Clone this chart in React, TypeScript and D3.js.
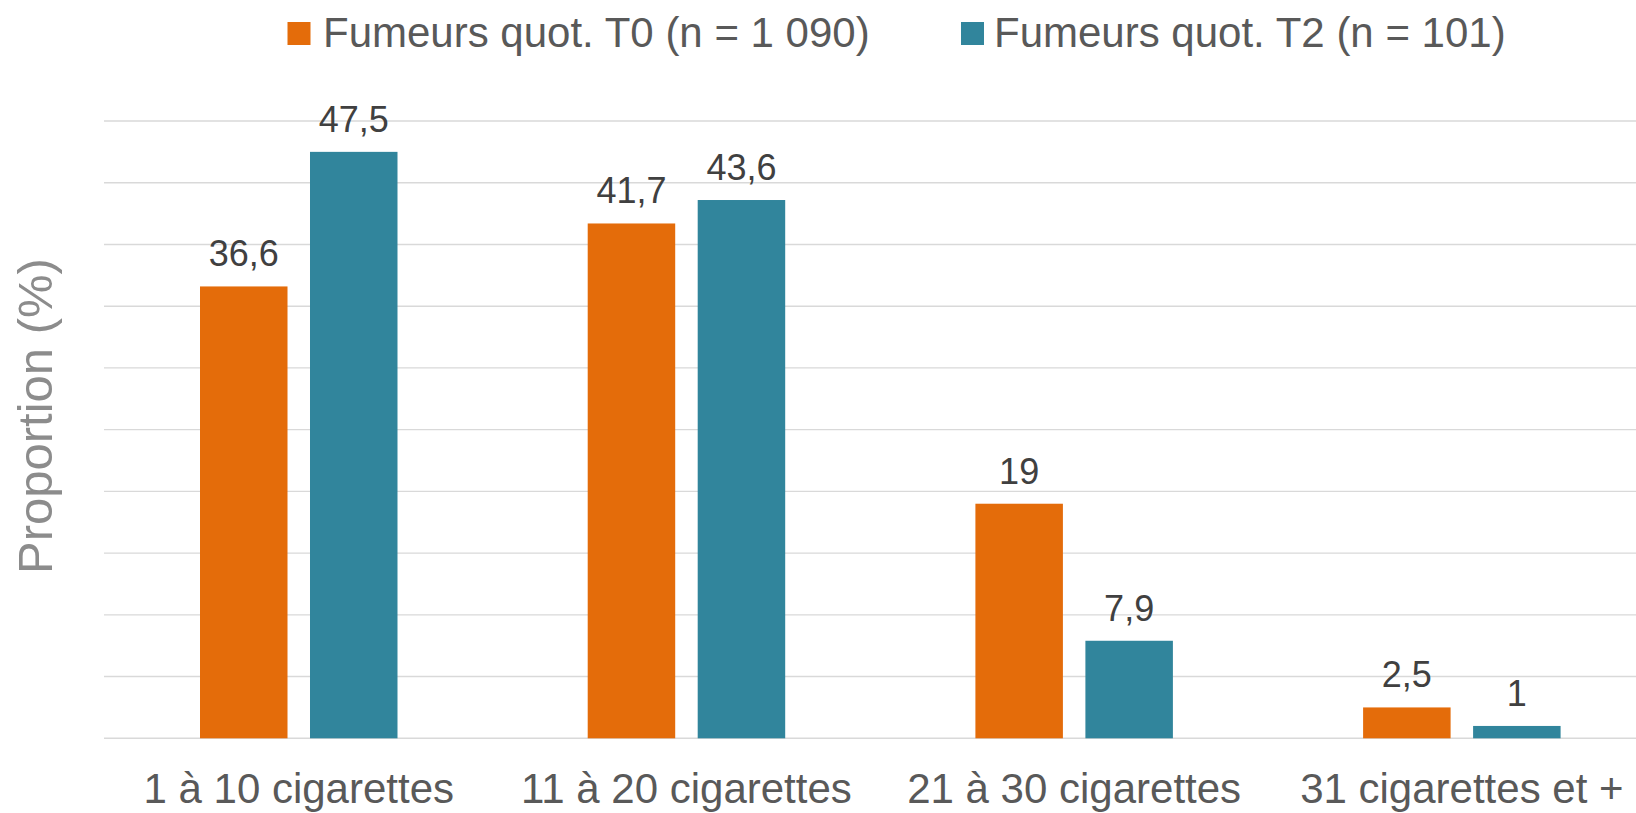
import React from "react";
import * as d3 from "d3";

// Daily cigarette consumption distribution, T0 vs T2 daily smokers
const categories = ["1 à 10 cigarettes", "11 à 20 cigarettes", "21 à 30 cigarettes", "31 cigarettes et +"];
const seriesNames = ["Fumeurs quot. T0 (n = 1 090)", "Fumeurs quot. T2 (n = 101)"];
const valuesT0 = [36.6, 41.7, 19, 2.5];
const valuesT1 = [47.5, 43.6, 7.9, 1];
const labelsT0 = ["36,6", "41,7", "19", "2,5"];
const labelsT1 = ["47,5", "43,6", "7,9", "1"];
const yTicks = [0, 5, 10, 15, 20, 25, 30, 35, 40, 45, 50];
const yTitle = "Proportion (%)";

const colors = ["#E46C0A", "#31859C"];
const FONT = "'Liberation Sans', Arial, Helvetica, sans-serif";

export default function App() {
  const W = 1636;
  const H = 813;
  const plotLeft = 104;
  const plotTop = 121;
  const plotBottom = 738.3;

  const y = d3.scaleLinear().domain([0, 50]).range([plotBottom, plotTop]);
  const x0 = d3
    .scaleBand<string>()
    .domain(categories)
    .range([104.9, 104.9 + 4 * 387.7])
    .paddingInner(0.4906)
    .paddingOuter(0.2453);
  const x1 = d3
    .scaleBand<string>()
    .domain(seriesNames)
    .range([0, x0.bandwidth()])
    .paddingInner(0.2045);

  const series = [
    { name: seriesNames[0], values: valuesT0, labels: labelsT0, color: colors[0] },
    { name: seriesNames[1], values: valuesT1, labels: labelsT1, color: colors[1] },
  ];

  const legend = [
    { x: 287.5, textX: 323, name: seriesNames[0], color: colors[0] },
    { x: 961, textX: 994, name: seriesNames[1], color: colors[1] },
  ];

  return (
    <svg
      width={W}
      height={H}
      style={{ position: "absolute", left: 0, top: 0, display: "block", background: "#fff" }}
      fontFamily={FONT}
    >
      <rect x={0} y={0} width={W} height={H} fill="#ffffff" />
      {/* gridlines */}
      {yTicks.map((t) => (
        <line
          key={t}
          x1={plotLeft}
          x2={W}
          y1={y(t)}
          y2={y(t)}
          stroke="#D9D9D9"
          strokeWidth={1.4}
        />
      ))}
      {/* bars */}
      {categories.map((c, i) => (
        <g key={c} transform={`translate(${x0(c)},0)`}>
          {series.map((s) => {
            const bx = x1(s.name)!;
            const bw = x1.bandwidth();
            const top = y(s.values[i]);
            return (
              <g key={s.name}>
                <rect x={bx} y={top} width={bw} height={y(0) - top} fill={s.color} />
                <text
                  x={bx + bw / 2}
                  y={top - 20}
                  textAnchor="middle"
                  fontSize={36}
                  fill="#404040"
                >
                  {s.labels[i]}
                </text>
              </g>
            );
          })}
        </g>
      ))}
      {/* category labels */}
      {categories.map((c) => (
        <text
          key={c}
          x={x0(c)! + x0.bandwidth() / 2}
          y={803}
          textAnchor="middle"
          fontSize={42}
          fill="#595959"
        >
          {c}
        </text>
      ))}
      {/* y axis title */}
      <text
        transform={`translate(52,416) rotate(-90)`}
        textAnchor="middle"
        fontSize={49}
        fill="#8C8C8C"
      >
        {yTitle}
      </text>
      {/* legend */}
      {legend.map((l) => (
        <g key={l.name}>
          <rect x={l.x} y={22} width={23} height={23} fill={l.color} />
          <text x={l.textX} y={47} fontSize={42} fill="#595959">
            {l.name}
          </text>
        </g>
      ))}
    </svg>
  );
}
